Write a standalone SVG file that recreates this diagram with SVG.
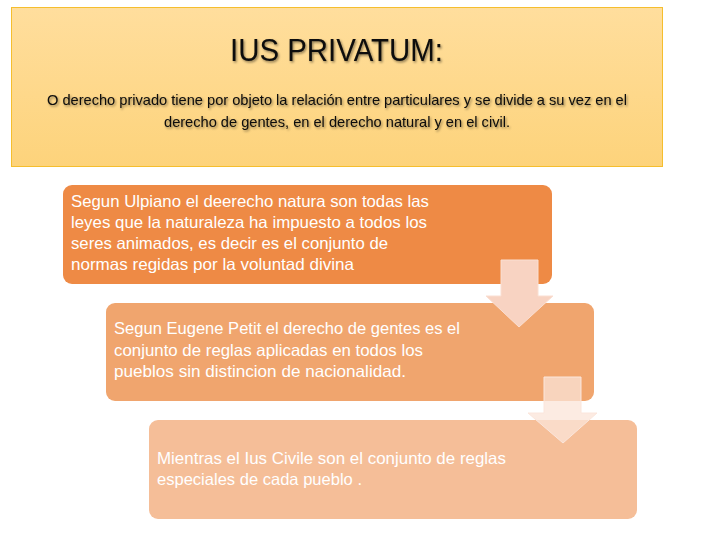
<svg xmlns="http://www.w3.org/2000/svg" width="716" height="544" viewBox="0 0 716 544">
  <defs>
    <linearGradient id="hdrGrad" x1="0" y1="0" x2="0" y2="1">
      <stop offset="0" stop-color="#FFDE9D"/>
      <stop offset="1" stop-color="#FDD37B"/>
    </linearGradient>
    <filter id="shadow" x="-5%" y="-20%" width="110%" height="150%">
      <feDropShadow dx="1.2" dy="1.5" stdDeviation="0.9" flood-color="#000" flood-opacity="0.45"/>
    </filter>
  </defs>
  <style>
    .hdr-text { font-family: "Liberation Sans", Arial, sans-serif; fill: #0A0A0A; }
    .box-text { font-family: "Liberation Sans", Arial, sans-serif; font-size: 16.5px; fill: #FFFFFF; }
    .arrow1 { fill: #F8D3C2; stroke: #FADFD2; stroke-width: 1; }
    .arrow2 { fill: #FBE4D8; fill-opacity: 0.75; stroke: #FBE6DC; stroke-width: 1; }
  </style>
  <rect width="716" height="544" fill="#FFFFFF"/>

  <g id="header">
    <rect x="11.5" y="7.5" width="651" height="159" fill="url(#hdrGrad)" stroke="#F5BE2E" stroke-width="1"/>
    <text class="hdr-text" x="230" y="61" font-size="31.5" textLength="213" lengthAdjust="spacingAndGlyphs" filter="url(#shadow)">IUS PRIVATUM:</text>
    <text class="hdr-text" x="47" y="105" font-size="14.2" textLength="580" lengthAdjust="spacingAndGlyphs" filter="url(#shadow)">O derecho privado tiene por objeto la relación entre particulares y se divide a su vez en el</text>
    <text class="hdr-text" x="164" y="127" font-size="14.2" textLength="346" lengthAdjust="spacingAndGlyphs" filter="url(#shadow)">derecho de gentes, en el derecho natural y en el civil.</text>
  </g>

  <g id="box1">
    <rect x="63" y="185" width="489" height="99" rx="9" fill="#EE8A45"/>
    <text class="box-text" x="71" y="207" textLength="358" lengthAdjust="spacingAndGlyphs">Segun Ulpiano el deerecho natura son todas las</text>
    <text class="box-text" x="71" y="228" textLength="356" lengthAdjust="spacingAndGlyphs">leyes que la naturaleza ha impuesto a todos los</text>
    <text class="box-text" x="71" y="249" textLength="317" lengthAdjust="spacingAndGlyphs">seres animados, es decir es el conjunto de</text>
    <text class="box-text" x="71" y="270" textLength="283" lengthAdjust="spacingAndGlyphs">normas regidas por la voluntad divina</text>
  </g>

  <g id="box2">
    <rect x="106" y="303" width="488" height="98" rx="9" fill="#F0A56E"/>
    <text class="box-text" x="114" y="334" textLength="346" lengthAdjust="spacingAndGlyphs">Segun Eugene Petit el derecho de gentes es el</text>
    <text class="box-text" x="114" y="356" textLength="309" lengthAdjust="spacingAndGlyphs">conjunto de reglas aplicadas en todos los</text>
    <text class="box-text" x="114" y="377" textLength="292" lengthAdjust="spacingAndGlyphs">pueblos sin distincion de nacionalidad.</text>
  </g>

  <g id="box3">
    <rect x="149" y="420" width="488" height="99" rx="9" fill="#F5BE98"/>
    <text class="box-text" x="157" y="464" textLength="349" lengthAdjust="spacingAndGlyphs">Mientras el Ius Civile son el conjunto de reglas</text>
    <text class="box-text" x="157" y="485" textLength="205" lengthAdjust="spacingAndGlyphs">especiales de cada pueblo .</text>
  </g>

  <g id="connectors">
    <polygon class="arrow1" points="501,260 538,260 538,296 553,296 519,327 486,296 501,296"/>
    <polygon class="arrow2" points="544,377 581,377 581,413 597,413 563,443 528,413 544,413"/>
  </g>
</svg>
